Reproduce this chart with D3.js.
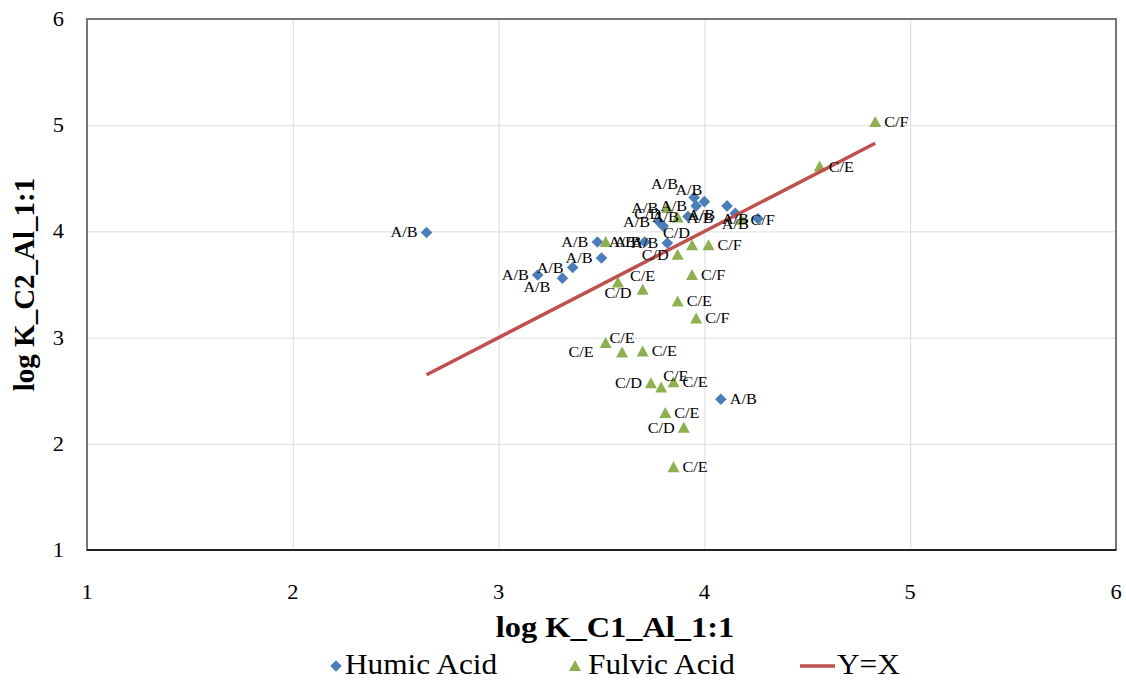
<!DOCTYPE html>
<html><head><meta charset="utf-8">
<script src="https://cdn.jsdelivr.net/npm/d3@7/dist/d3.min.js"></script>
<style>body{margin:0;background:#fff;}</style>
</head><body>
<svg id="chart" width="1126" height="681"></svg>
<script>
const xTicks = [1, 2, 3, 4, 5, 6];
const yTicks = [1, 2, 3, 4, 5, 6];

const humicX = [2.65, 3.19, 3.31, 3.36, 3.50, 3.48, 3.71, 3.82, 4.08, 3.78, 3.80, 3.92, 3.96, 4.00, 3.95, 4.11, 4.15, 4.26];
const humicY = [3.99, 3.59, 3.56, 3.66, 3.75, 3.90, 3.90, 3.89, 2.42, 4.09, 4.05, 4.14, 4.24, 4.28, 4.32, 4.24, 4.17, 4.12];
const humicLabels = ["A/B","A/B","A/B","A/B","A/B","A/B","A/B","A/B","A/B","A/B","C/D","A/B","A/B","A/B","A/B","A/B","A/B","A/B"];
const humicLabelSide = ["l","l","bl","l","l","l","l","l","r","l","tl","l","l","tl","tll","bl","b","l"];

const fulvicX = [4.83, 4.56, 3.52, 3.94, 4.02, 3.87, 3.94, 3.58, 3.70, 3.87, 3.96, 3.52, 3.60, 3.70, 3.74, 3.79, 3.85, 3.81, 3.90, 3.85, 3.87, 3.82, 4.18];
const fulvicY = [5.03, 4.61, 3.90, 3.87, 3.87, 3.78, 3.59, 3.52, 3.45, 3.34, 3.18, 2.95, 2.86, 2.87, 2.57, 2.53, 2.58, 2.29, 2.15, 1.78, 4.13, 4.22, 4.11];
const fulvicLabels = ["C/F","C/E","A/B","C/D","C/F","C/D","C/F","C/D","C/E","C/E","C/F","C/E","C/E","C/E","C/D","C/E","C/E","C/E","C/D","C/E","A/B","A/B","C/F"];
const fulvicLabelSide = ["r","r","r","tl","r","l","r","b","t","r","r","bl","t","r","l","tr","r","r","l","r","r","l","r"];

const lineX = [2.65, 4.83];
const lineY = [2.65, 4.83];

const seriesNames = ["Humic Acid", "Fulvic Acid", "Y=X"];
const xTitle = "log K_C1_Al_1:1";
const yTitle = "log K_C2_Al_1:1";

const BLUE = "#4a7dba", GREEN = "#8fb050", RED = "#c0504d";
const FONT = "Times New Roman, Liberation Serif, Times, serif";

const svg = d3.select("#chart");
const pL = 87, pR = 1116, pT = 19, pB = 550;
const x = d3.scaleLinear().domain([1, 6]).range([pL, pR]);
const y = d3.scaleLinear().domain([1, 6]).range([pB, pT]);

// gridlines
const gx = svg.append("g").attr("transform", `translate(0,${pB})`)
  .call(d3.axisBottom(x).tickValues(xTicks).tickSize(-(pB - pT)).tickFormat(""));
gx.select(".domain").remove();
gx.selectAll("line").attr("stroke", "#dcdcdc").attr("stroke-width", 1);
const gy = svg.append("g").attr("transform", `translate(${pL},0)`)
  .call(d3.axisLeft(y).tickValues(yTicks).tickSize(-(pR - pL)).tickFormat(""));
gy.select(".domain").remove();
gy.selectAll("line").attr("stroke", "#dcdcdc").attr("stroke-width", 1);

// frame
svg.append("rect").attr("x", pL).attr("y", pT).attr("width", pR - pL).attr("height", pB - pT)
  .attr("fill", "none").attr("stroke", "#777").attr("stroke-width", 2);
svg.append("line").attr("x1", pL).attr("x2", pR).attr("y1", pB).attr("y2", pB)
  .attr("stroke", "#222").attr("stroke-width", 2);

// tick labels
xTicks.forEach(t => {
  svg.append("text").attr("transform", `translate(${x(t)},${599}) scale(1.07,1)`)
    .attr("text-anchor", "middle").attr("font-family", FONT).attr("font-size", 21).attr("fill", "#000").text(t);
});
yTicks.forEach(t => {
  svg.append("text").attr("transform", `translate(${64},${y(t) + 7}) scale(1.07,1)`)
    .attr("text-anchor", "end").attr("font-family", FONT).attr("font-size", 21).attr("fill", "#000").text(t);
});

// axis titles
svg.append("text").attr("transform", `translate(615,637) scale(1.08,1)`).attr("text-anchor", "middle")
  .attr("font-family", FONT).attr("font-size", 30).attr("font-weight", "bold").text(xTitle);
svg.append("text").attr("transform", `translate(34,${(pT + pB) / 2}) rotate(-90)`).attr("text-anchor", "middle")
  .attr("font-family", FONT).attr("font-size", 29).attr("font-weight", "bold").text(yTitle);

const diamondPath = "M0,-5.8L5.8,0L0,5.8L-5.8,0Z";
const trianglePath = "M0,-6L6,5L-6,5Z";

const humic = humicX.map((v, i) => ({x: v, y: humicY[i], label: humicLabels[i], side: humicLabelSide[i]}));
const fulvic = fulvicX.map((v, i) => ({x: v, y: fulvicY[i], label: fulvicLabels[i], side: fulvicLabelSide[i]}));

svg.append("g").selectAll("path").data(humic).join("path")
  .attr("d", diamondPath).attr("transform", d => `translate(${x(d.x)},${y(d.y)})`).attr("fill", BLUE);
svg.append("g").selectAll("path").data(fulvic).join("path")
  .attr("d", trianglePath).attr("transform", d => `translate(${x(d.x)},${y(d.y)})`).attr("fill", GREEN);

// Y=X line
const lineData = lineX.map((v, i) => [v, lineY[i]]);
svg.append("path").datum(lineData)
  .attr("d", d3.line().x(d => x(d[0])).y(d => y(d[1])))
  .attr("stroke", RED).attr("stroke-width", 3.5).attr("fill", "none");

// data labels
const sides = {
  l: {a: "end", dx: -9, dy: 5},
  r: {a: "start", dx: 9, dy: 5},
  t: {a: "middle", dx: 0, dy: -9},
  b: {a: "middle", dx: 0, dy: 16},
  tl: {a: "end", dx: -2, dy: -7},
  tll: {a: "end", dx: -16, dy: -8},
  tr: {a: "start", dx: 2, dy: -7},
  bl: {a: "end", dx: -12, dy: 14}
};
const allPts = humic.concat(fulvic);
svg.append("g").selectAll("text").data(allPts).join("text")
  .attr("transform", d => `translate(${x(d.x) + sides[d.side].dx},${y(d.y) + sides[d.side].dy}) scale(1.08,1)`)
  .attr("text-anchor", d => sides[d.side].a)
  .attr("font-family", FONT).attr("font-size", 15).attr("fill", "#000")
  .text(d => d.label);

// legend
const lg = svg.append("g");
lg.append("path").attr("d", diamondPath).attr("transform", "translate(336,666)").attr("fill", BLUE);
lg.append("text").attr("transform", "translate(345,674) scale(1.08,1)").attr("font-family", FONT).attr("font-size", 29).text(seriesNames[0]);
lg.append("path").attr("d", trianglePath).attr("transform", "translate(575,666)").attr("fill", GREEN);
lg.append("text").attr("transform", "translate(588,674) scale(1.08,1)").attr("font-family", FONT).attr("font-size", 29).text(seriesNames[1]);
lg.append("line").attr("x1", 800).attr("x2", 835).attr("y1", 666).attr("y2", 666).attr("stroke", RED).attr("stroke-width", 3.5);
lg.append("text").attr("transform", "translate(837,674) scale(1.08,1)").attr("font-family", FONT).attr("font-size", 29).text(seriesNames[2]);
</script>
</body></html>
